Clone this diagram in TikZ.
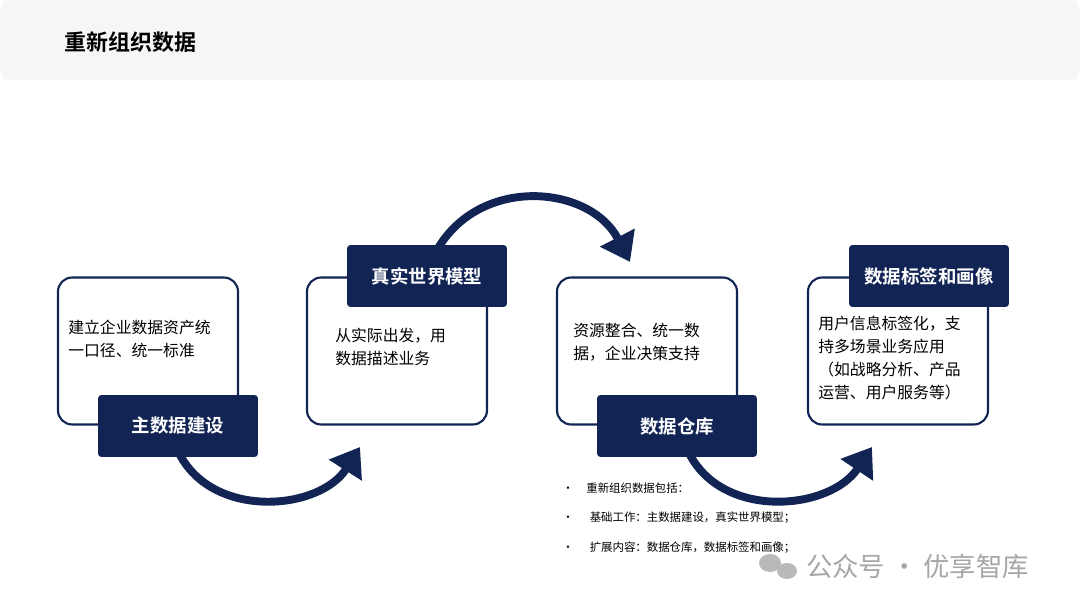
\documentclass[tikz,border=0pt]{standalone}
\usepackage{fontspec}
\setmainfont{Noto Sans CJK SC}
\newfontfamily\cjk{Noto Sans CJK SC}
\newfontfamily\cjkb{Noto Sans CJK SC Bold}
\usetikzlibrary{arrows.meta,positioning}
\definecolor{navy}{RGB}{17,36,84}
\definecolor{band}{RGB}{246,246,248}
\tikzset{
  card/.style={draw=navy, line width=1.2pt, fill=white, rounded corners=8pt, minimum width=3.6cm, minimum height=2.94cm},
  tag/.style={fill=navy, rounded corners=2pt, minimum width=3.2cm, minimum height=1.24cm, text=white, font=\cjkb\fontsize{10.5}{12}\selectfont},
  body/.style={align=left, anchor=north west, font=\cjk\fontsize{9}{13}\selectfont, inner sep=0pt},
  flow/.style={draw=navy, line width=4.5pt, -{Triangle[length=0.55cm, width=0.75cm]}},
  bullet/.style={anchor=west, font=\cjk\fontsize{6.5}{8}\selectfont, inner sep=0pt}
}
\begin{document}
\begin{tikzpicture}[x=0.02cm, y=-0.02cm]
\useasboundingbox (0,0) rectangle (1080,608);
\fill[white] (0,0) rectangle (1080,608);
\fill[band, rounded corners=6pt] (0,0) rectangle (1080,80);
\node (title) [anchor=west, font=\cjkb\fontsize{12.5}{14}\selectfont] at (58,42) {重新组织数据};

% cards
\node [card] (c1) at (148,351) {};
\node [card] (c2) at (397,351) {};
\node [card] (c3) at (647,351) {};
\node [card] (c4) at (898,351) {};

\node [body] (t1) at (68,320) {建立企业数据资产统\\一口径、统一标准};
\node [body] (t2) at (335,328) {从实际出发，用\\数据描述业务};
\node [body] (t3) at (573,323) {资源整合、统一数\\据，企业决策支持};
\node [body] (t4) at (818,316) {用户信息标签化，支\\持多场景业务应用\\（如战略分析、产品\\运营、用户服务等）};

% arrows
\coordinate (a1s) at (180,455);
\coordinate (a1e) at (360,447);
\coordinate (a2s) at (437,250);
\coordinate (a2e) at (630,262);
\coordinate (a3s) at (690,455);
\coordinate (a3e) at (872,447);
\draw [flow] (a1s) .. controls (215,520) and (320,510) .. (a1e);
\draw [flow] (a2s) .. controls (480,175) and (590,185) .. (a2e);
\draw [flow] (a3s) .. controls (725,520) and (830,510) .. (a3e);

% tags
\node [tag] (g1) at (178,426) {主数据建设};
\node [tag] (g2) at (427,276) {真实世界模型};
\node [tag] (g3) at (677,426) {数据仓库};
\node [tag] (g4) at (929,276) {数据标签和画像};

% notes
\node [bullet] (b1) at (562,488) {•\hspace{1.1em}重新组织数据包括：};
\node [bullet] (b2) at (562,518) {•\hspace{1.4em}基础工作：主数据建设，真实世界模型；};
\node [bullet] (b3) at (562,548) {•\hspace{1.4em}扩展内容：数据仓库，数据标签和画像；};

% watermark
\fill [gray!55] (770,563) ellipse (11 and 9);
\fill [gray!55] (787,571) ellipse (10 and 8);
\node (wm) [anchor=west, text=gray!70, font=\cjk\fontsize{15}{17}\selectfont] at (800,566) {公众号 · 优享智库};
\end{tikzpicture}
\end{document}
